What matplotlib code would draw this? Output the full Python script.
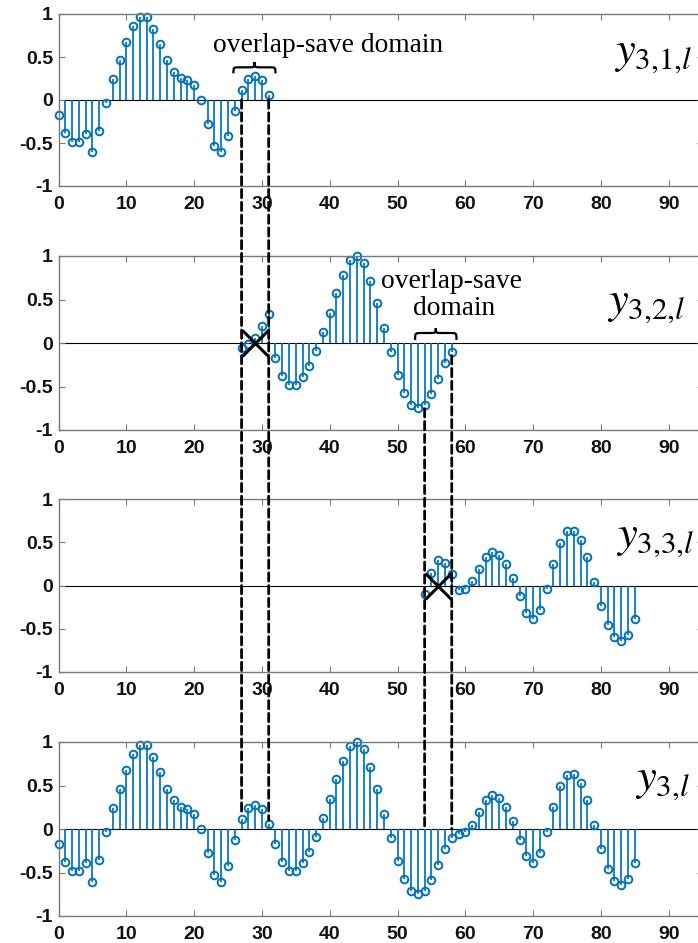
import numpy as np
import matplotlib
matplotlib.use("Agg")
import matplotlib.pyplot as plt
from matplotlib.patches import ConnectionPatch, PathPatch
from matplotlib.path import Path

plt.rcParams['mathtext.fontset'] = 'stix'
plt.rcParams['axes.unicode_minus'] = False

# full output y_{3,l}, n = 0..85
y3 = [-0.17, -0.38, -0.485, -0.485, -0.39, -0.61, -0.355, -0.04, 0.24, 0.465,
      0.675, 0.86, 0.96, 0.96, 0.83, 0.65, 0.465, 0.33, 0.255, 0.23,
      0.17, 0.0, -0.275, -0.53, -0.61, -0.42, -0.125, 0.115, 0.24, 0.28,
      0.23, 0.06, -0.17, -0.38, -0.48, -0.48, -0.39, -0.26, -0.09, 0.13,
      0.34, 0.57, 0.78, 0.955, 1.0, 0.915, 0.71, 0.455, 0.175, -0.10,
      -0.365, -0.58, -0.71, -0.75, -0.715, -0.59, -0.415, -0.23, -0.105, -0.055,
      -0.035, 0.05, 0.195, 0.33, 0.39, 0.355, 0.25, 0.09, -0.125, -0.315,
      -0.39, -0.28, -0.04, 0.25, 0.49, 0.625, 0.635, 0.53, 0.33, 0.045,
      -0.235, -0.46, -0.60, -0.64, -0.57, -0.39]

# first (discarded) samples of blocks 2 and 3
head2 = [-0.06, -0.01, 0.06, 0.20, 0.33]     # n = 27..31
head3 = [-0.10, 0.145, 0.29, 0.265, 0.135]   # n = 54..58

n_all = np.arange(len(y3))
blocks = [
    (n_all[0:32], y3[0:32]),
    (n_all[27:59], head2 + y3[32:59]),
    (n_all[54:86], head3 + y3[59:86]),
    (n_all, y3),
]
labels = [r'$y_{3{,}1{,}l}$', r'$y_{3{,}2{,}l}$', r'$y_{3{,}3{,}l}$', r'$y_{3{,}l}$']
label_pos = [(82.0, 0.43), (80.9, 0.345), (82.2, 0.45), (85.0, 0.45)]

blue = '#0072BD'
gray = '#7a7a7a'
W, H = 698, 943
fig = plt.figure(figsize=(W / 100, H / 100), dpi=100)

tops = [14, 256, 499, 742]
bots = [186, 430, 672, 916]
x0px, pxu, xmax = 58.5, 6.78, 95

axes = []
for i in range(4):
    ax = fig.add_axes([x0px / W, (H - bots[i]) / H, xmax * pxu / W, (bots[i] - tops[i]) / H])
    n, v = blocks[i]
    ml, sl, bl = ax.stem(n, v, basefmt=' ')
    plt.setp(sl, color=blue, linewidth=1.25)
    plt.setp(ml, color=blue, markersize=5.5, markerfacecolor='none',
             markeredgewidth=1.4, clip_on=False)
    ax.axhline(0, color='k', lw=0.8, zorder=1)
    ax.set_xlim(0, xmax)
    ax.set_ylim(-1, 1)
    ax.set_xticks(np.arange(0, 91, 10))
    ax.set_yticks([-1, -0.5, 0, 0.5, 1])
    ax.set_yticklabels(['-1', '-0.5', '0', '0.5', '1'])
    for s in ax.spines.values():
        s.set_color(gray)
        s.set_linewidth(1.0)
    ax.tick_params(direction='in', top=True, right=True, length=4.3, width=0.8,
                   color=gray, labelsize=14, labelcolor='#111111')
    ax.tick_params(axis='x', pad=7)
    ax.tick_params(axis='y', pad=4)
    for t in ax.get_xticklabels() + ax.get_yticklabels():
        t.set_fontfamily('Liberation Sans')
        t.set_fontweight('bold')
    ax.text(label_pos[i][0], label_pos[i][1], labels[i], fontsize=32,
            ha='left', va='baseline')
    axes.append(ax)


def brace(ax, xa, xb, yb, yt, yc):
    # horizontal curly brace, ends down at yb, bar at yc, cusp up at yt
    xm = (xa + xb) / 2
    q = 0.9
    verts = [(xa, yb), (xa, yc), (xa, yc), (xa + q, yc),
             (xm - q, yc), (xm, yc), (xm, yc), (xm, yt),
             (xm, yc), (xm, yc), (xm + q, yc),
             (xb - q, yc), (xb, yc), (xb, yc), (xb, yb)]
    codes = [Path.MOVETO, Path.CURVE4, Path.CURVE4, Path.CURVE4,
             Path.LINETO, Path.CURVE4, Path.CURVE4, Path.CURVE4,
             Path.CURVE4, Path.CURVE4, Path.CURVE4,
             Path.LINETO, Path.CURVE4, Path.CURVE4, Path.CURVE4]
    ax.add_patch(PathPatch(Path(verts, codes), fill=False, lw=1.6, color='k'))


serif = 'Liberation Serif'
axes[0].text(39.8, 0.56, 'overlap-save domain', fontsize=19.8, family=serif,
             ha='center', va='baseline')
brace(axes[0], 25.8, 32.0, 0.31, 0.44, 0.38)
axes[1].text(58.0, 0.63, 'overlap-save', fontsize=19.8, family=serif,
             ha='center', va='baseline')
axes[1].text(58.3, 0.32, 'domain', fontsize=19.8, family=serif,
             ha='center', va='baseline')
brace(axes[1], 52.6, 58.7, 0.035, 0.17, 0.115)

# crosses on the discarded samples
axes[1].plot([29], [0], marker='x', color='k', markersize=19, markeredgewidth=2.2)
axes[2].plot([56], [0], marker='x', color='k', markersize=19, markeredgewidth=2.2)

# dashed guide lines across panels
dash = dict(color='k', lw=2.0, linestyle=(0, (3, 1.6)))
for n in [27, 31]:
    con = ConnectionPatch(xyA=(n, 0), coordsA=axes[0].transData,
                          xyB=(n, y3[n] + 0.04), coordsB=axes[3].transData, **dash)
    fig.add_artist(con)
for n in [54, 58]:
    con = ConnectionPatch(xyA=(n, blocks[1][1][n - 27] - 0.04),
                          coordsA=axes[1].transData,
                          xyB=(n, 0), coordsB=axes[3].transData, **dash)
    fig.add_artist(con)

fig.savefig('out.png', dpi=100)
